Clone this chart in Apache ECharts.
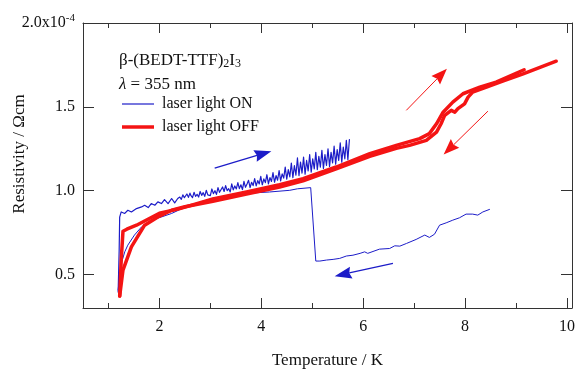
<!DOCTYPE html>
<html>
<head>
<meta charset="utf-8">
<script src="https://cdn.jsdelivr.net/npm/echarts@6/dist/echarts.min.js"></script>
<style>
html, body {margin: 0; padding: 0; background: #fff;}
#chart {width: 579px; height: 372px;}
</style>
</head>
<body>
<div id="chart"></div>
<script>
// laser light OFF : warming leg and cooling leg (T in K, resistivity in 1e-4 ohm cm)
var offUpT = [1.22, 1.25, 1.285, 1.36, 1.55, 2.00, 2.40, 3.05, 3.71, 4.36, 4.82, 5.47, 6.13, 6.65, 7.11, 7.30, 7.44, 7.57, 7.76, 7.96, 8.29, 8.61, 9.16];
var offUpR = [0.371, 0.586, 0.758, 0.770, 0.794, 0.865, 0.893, 0.950, 0.992, 1.035, 1.072, 1.141, 1.221, 1.270, 1.310, 1.340, 1.399, 1.468, 1.528, 1.578, 1.617, 1.647, 1.721];
var offDownT = [9.79, 9.14, 8.74, 8.42, 8.15, 8.06, 7.99, 7.86, 7.80, 7.73, 7.60, 7.53, 7.44, 7.24, 6.91, 6.65, 6.13, 5.47, 4.82, 4.36, 3.71, 3.05, 2.50, 2.24, 1.97, 1.71, 1.45, 1.285, 1.22];
var offDownR = [1.772, 1.697, 1.653, 1.617, 1.588, 1.558, 1.518, 1.489, 1.468, 1.479, 1.449, 1.399, 1.349, 1.300, 1.270, 1.252, 1.205, 1.130, 1.059, 1.022, 0.980, 0.937, 0.904, 0.883, 0.843, 0.794, 0.665, 0.526, 0.371];

// laser light ON : cooling from 8.5 K (jump at 5 K), then noisy warming
var onDownT = [8.48, 8.35, 8.25, 8.15, 8.02, 7.89, 7.76, 7.63, 7.50, 7.40, 7.30, 7.21, 7.04, 6.85, 6.72, 6.62, 6.52, 6.32, 6.09, 6.03, 5.94, 5.80, 5.67, 5.54, 5.41, 5.28, 5.15, 5.07, 4.97, 4.71, 4.56, 4.16, 3.77, 3.38, 3.05, 2.79, 2.50, 2.24, 2.04, 1.84, 1.65, 1.51, 1.38, 1.32, 1.26, 1.22, 1.19];
var onDownR = [0.888, 0.873, 0.854, 0.860, 0.860, 0.838, 0.824, 0.808, 0.794, 0.740, 0.721, 0.735, 0.709, 0.685, 0.669, 0.671, 0.655, 0.651, 0.626, 0.635, 0.626, 0.615, 0.610, 0.596, 0.590, 0.586, 0.580, 0.580, 1.018, 1.011, 1.002, 0.992, 0.985, 0.973, 0.955, 0.931, 0.901, 0.864, 0.843, 0.824, 0.784, 0.735, 0.675, 0.635, 0.574, 0.496, 0.407];
var onUpT = [1.19, 1.21, 1.22, 1.25, 1.32, 1.38, 1.45, 1.55, 1.58, 1.65, 1.71, 1.78, 1.84, 1.91, 1.97, 2.04, 2.10, 2.17, 2.24, 2.30, 2.36,
  2.40, 2.43, 2.46, 2.49, 2.51, 2.54, 2.57, 2.60, 2.62, 2.65, 2.68, 2.71, 2.74, 2.77, 2.80, 2.83, 2.86, 2.89, 2.92, 2.95, 2.97,
  3.00, 3.03, 3.06, 3.09, 3.12, 3.15, 3.18, 3.21, 3.24, 3.27, 3.30, 3.33, 3.36, 3.39, 3.42, 3.45, 3.48, 3.51, 3.54, 3.57,
  3.60, 3.63, 3.66, 3.69, 3.72, 3.75, 3.78, 3.81, 3.84, 3.87, 3.90, 3.93, 3.96, 3.99, 4.02, 4.05, 4.08, 4.11, 4.14, 4.17,
  4.20, 4.23, 4.26, 4.29, 4.32, 4.35, 4.38, 4.41, 4.44, 4.47, 4.50, 4.53, 4.56, 4.59, 4.62, 4.65, 4.68, 4.71, 4.74, 4.77,
  4.80, 4.83, 4.86, 4.89, 4.92, 4.95, 4.98, 5.01, 5.04, 5.07, 5.10, 5.13, 5.16, 5.19, 5.22, 5.25, 5.28, 5.31, 5.34, 5.37,
  5.40, 5.43, 5.46, 5.49, 5.52, 5.55, 5.58, 5.61, 5.64, 5.67, 5.70, 5.73];
var onUpR = [0.395, 0.645, 0.842, 0.873, 0.864, 0.883, 0.873, 0.893, 0.883, 0.903, 0.913, 0.899, 0.923, 0.913, 0.933, 0.923, 0.947, 0.923, 0.953, 0.927, 0.953,
  0.962, 0.948, 0.975, 0.958, 0.952, 0.980, 0.960, 0.985, 0.970, 0.958, 0.990, 0.966, 0.978, 0.962, 0.995, 0.972, 0.988, 0.966, 1.002, 0.975, 0.983,
  0.970, 1.010, 0.982, 1.000, 0.978, 1.018, 0.990, 0.984, 1.022, 0.995, 1.030, 1.000, 1.012, 0.992, 1.040, 1.005, 1.028, 1.010, 1.048, 1.012,
  1.035, 1.006, 1.055, 1.020, 1.040, 1.062, 1.018, 1.050, 1.030, 1.072, 1.028, 1.060, 1.040, 1.085, 1.035, 1.070, 1.048, 1.095, 1.040, 1.078,
  1.055, 1.108, 1.050, 1.090, 1.062, 1.120, 1.058, 1.100, 1.075, 1.140, 1.068, 1.125, 1.082, 1.165, 1.078, 1.150, 1.092, 1.195, 1.090, 1.170,
  1.105, 1.200, 1.098, 1.180, 1.118, 1.215, 1.110, 1.190, 1.130, 1.228, 1.125, 1.205, 1.140, 1.240, 1.132, 1.215, 1.150, 1.250, 1.145, 1.228,
  1.165, 1.265, 1.158, 1.245, 1.180, 1.285, 1.170, 1.260, 1.190, 1.300, 1.185, 1.305];

// axis ticks / labels
var xMajor = [2, 4, 6, 8, 10];
var xMinor = [1, 3, 5, 7, 9];
var yMajor = [0.5, 1.0, 1.5, 2.0];

// direction arrows [T1, R1, T2, R2]
var blueArrows = [[3.085, 1.135, 4.198, 1.235], [6.585, 0.566, 5.44, 0.490]];
var redArrows = [[6.847, 1.479, 7.644, 1.727], [8.449, 1.474, 7.58, 1.215]];

var font = "'Liberation Serif', 'Times New Roman', serif";
var blue = '#1c1cc8';
var red = '#f41414';
var axisColor = '#333';

function zip(a, b) {
  return a.map(function (v, i) { return [v, b[i]]; });
}

function xAxisOf(pos, ticks, len, labels) {
  return {
    type: 'value', position: pos, min: 0.5, max: 10.1,
    axisLine: {show: labels || (pos === 'top' && len === 10), onZero: false, lineStyle: {color: axisColor, width: 1}},
    axisTick: {show: true, inside: true, length: len, customValues: ticks, lineStyle: {color: axisColor}},
    axisLabel: {show: labels, customValues: xMajor, fontFamily: font, fontSize: 16, color: '#111', margin: 11},
    splitLine: {show: false},
    name: labels ? 'Temperature / K' : '',
    nameLocation: 'middle', nameGap: 44,
    nameTextStyle: {fontFamily: font, fontSize: 17, color: '#111'}
  };
}

var chart = echarts.init(document.getElementById('chart'));
chart.setOption({
  animation: false,
  textStyle: {fontFamily: font},
  grid: {left: 83, right: 7, top: 23, bottom: 64, containLabel: false, outerBoundsMode: 'none'},
  legend: {
    data: [
      {name: 'laser light ON', icon: 'path://M0,0 L32,0 L32,1.2 L0,1.2 Z'},
      {name: 'laser light OFF', icon: 'path://M0,0 L32,0 L32,3.5 L0,3.5 Z'}
    ],
    orient: 'vertical', left: 122, top: 96, padding: 0,
    itemWidth: 32, itemHeight: 14, itemGap: 7,
    textStyle: {fontFamily: font, fontSize: 16, color: '#111', padding: [0, 0, 0, 3]}
  },
  xAxis: [
    xAxisOf('bottom', xMajor, 10, true),
    xAxisOf('bottom', xMinor, 5, false),
    xAxisOf('top', xMajor, 10, false),
    xAxisOf('top', xMinor, 5, false)
  ],
  yAxis: [
    {
      type: 'value', position: 'left', min: 0.3, max: 2.0,
      axisLine: {show: true, onZero: false, lineStyle: {color: axisColor}},
      axisTick: {show: true, inside: true, length: 11, customValues: yMajor, lineStyle: {color: axisColor}},
      axisLabel: {
        customValues: yMajor, margin: 8, color: '#111', fontFamily: font, fontSize: 16,
        formatter: function (v) { return v === 2 ? '{m|2.0x10}{e|-4}' : v.toFixed(1); },
        rich: {
          m: {fontFamily: font, fontSize: 16, color: '#111'},
          e: {fontFamily: font, fontSize: 11, color: '#111', padding: [0, 0, 10, 0]}
        }
      },
      splitLine: {show: false}
    },
    {
      type: 'value', position: 'right', min: 0.3, max: 2.0,
      axisLine: {show: true, onZero: false, lineStyle: {color: axisColor}},
      axisTick: {show: true, inside: true, length: 11, customValues: yMajor, lineStyle: {color: axisColor}},
      axisLabel: {show: false},
      splitLine: {show: false}
    }
  ],
  series: [
    {name: 'laser light ON', data: zip(onDownT, onDownR), lineStyle: {width: 1, color: blue}},
    {name: 'laser light ON', data: zip(onUpT, onUpR), lineStyle: {width: 1.2, color: blue}},
    {name: 'laser light OFF', data: zip(offUpT, offUpR), lineStyle: {width: 3.5, color: red}},
    {name: 'laser light OFF', data: zip(offDownT, offDownR), lineStyle: {width: 3.5, color: red}}
  ].map(function (s) {
    return Object.assign({
      type: 'line', symbol: 'none', xAxisIndex: 0, yAxisIndex: 0,
      itemStyle: {color: s.lineStyle.color}
    }, s, {lineStyle: Object.assign({join: 'round', cap: 'round'}, s.lineStyle)});
  })
});

function arrow(a, color, width, headLen, headW) {
  var p1 = chart.convertToPixel({xAxisIndex: 0, yAxisIndex: 0}, [a[0], a[1]]);
  var p2 = chart.convertToPixel({xAxisIndex: 0, yAxisIndex: 0}, [a[2], a[3]]);
  var dx = p2[0] - p1[0], dy = p2[1] - p1[1];
  var d = Math.sqrt(dx * dx + dy * dy);
  var ux = dx / d, uy = dy / d, nx = -uy, ny = ux;
  var bx = p2[0] - ux * headLen, by = p2[1] - uy * headLen;
  var cx = p2[0] - ux * headLen * 0.88, cy = p2[1] - uy * headLen * 0.88;
  return [
    {type: 'line', shape: {x1: p1[0], y1: p1[1], x2: cx, y2: cy}, style: {stroke: color, lineWidth: width}, z: 10},
    {type: 'polygon', shape: {points: [[p2[0], p2[1]], [bx + nx * headW, by + ny * headW], [cx, cy], [bx - nx * headW, by - ny * headW]]},
      style: {fill: color}, z: 10}
  ];
}

var graphics = [
  {type: 'text', left: 119, top: 52, z: 10,
    style: {text: 'β-(BEDT-TTF){s|2}I{s|3}', fontFamily: font, fontSize: 17, fill: '#111',
      rich: {s: {fontFamily: font, fontSize: 12, fill: '#111', padding: [7, 0, 0, 0]}}}},
  {type: 'text', left: 119, top: 76, z: 10,
    style: {text: '{i|λ} = 355 nm', fontFamily: font, fontSize: 17, fill: '#111',
      rich: {i: {fontFamily: font, fontSize: 17, fontStyle: 'italic', fill: '#111'}}}},
  {type: 'text', x: 20, y: 154, rotation: Math.PI / 2, z: 10,
    style: {text: 'Resistivity / Ωcm', fontFamily: font, fontSize: 17, fill: '#111', align: 'center', verticalAlign: 'middle'}}
];
blueArrows.forEach(function (a) { graphics = graphics.concat(arrow(a, blue, 1.3, 17, 6)); });
redArrows.forEach(function (a) { graphics = graphics.concat(arrow(a, red, 1, 16, 6)); });
chart.setOption({graphic: graphics});
</script>
</body>
</html>
